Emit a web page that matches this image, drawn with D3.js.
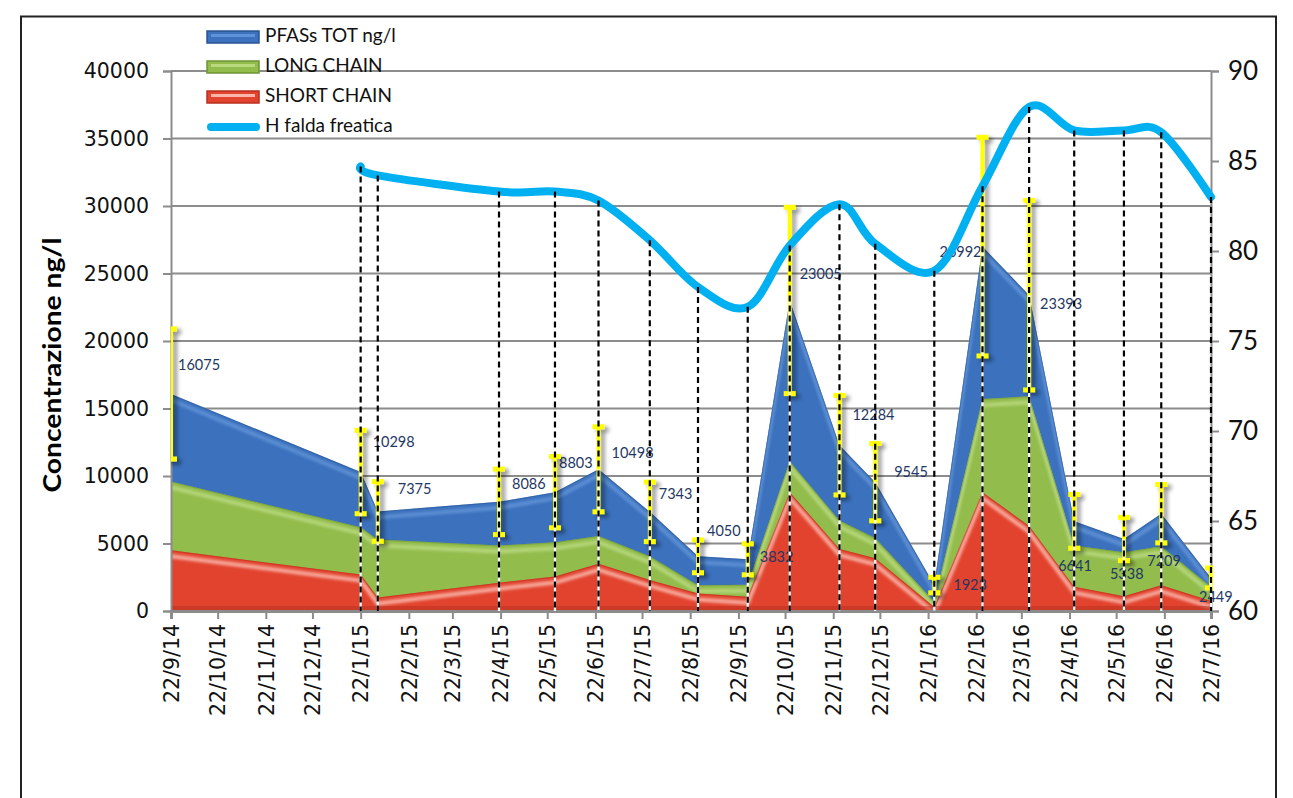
<!DOCTYPE html>
<html><head><meta charset="utf-8">
<script src="https://cdn.jsdelivr.net/npm/d3@7/dist/d3.min.js"></script>
<style>body{margin:0;background:#fff;} svg{display:block;}</style>
</head><body>
<svg id="chart" width="1293" height="798"></svg>
<script>
// ---------------- DATA ----------------
const sampleDates = ["22/09/2014","22/01/2015","02/02/2015","21/04/2015","27/05/2015","24/06/2015","27/07/2015","27/08/2015","28/09/2015","25/10/2015","26/11/2015","19/12/2015","26/01/2016","26/02/2016","27/03/2016","25/04/2016","27/05/2016","20/06/2016","22/07/2016"];
const totalPFAS = [16075,10298,7375,8086,8803,10498,7343,4050,3832,23005,12284,9545,1923,26992,23393,6641,5338,7209,2449];
const longChain = [9600,6200,5300,4850,5100,5550,4050,1900,1950,11100,6700,5400,700,15700,15900,4850,4350,4800,1800];
const shortChain = [4500,2700,1000,2100,2550,3500,2300,1300,1050,8800,4600,3900,300,8800,6300,1800,1100,1900,750];
const hFalda = [null,84.7,84.2,83.3,83.3,82.8,80.6,78.0,76.9,80.3,82.6,80.4,78.9,83.6,88.0,86.7,86.7,86.6,83.0];
const xTickLabels = ["22/9/14","22/10/14","22/11/14","22/12/14","22/1/15","22/2/15","22/3/15","22/4/15","22/5/15","22/6/15","22/7/15","22/8/15","22/9/15","22/10/15","22/11/15","22/12/15","22/1/16","22/2/16","22/3/16","22/4/16","22/5/16","22/6/16","22/7/16"];
const yLeftTicks = [0,5000,10000,15000,20000,25000,30000,35000,40000];
const yRightTicks = [60,65,70,75,80,85,90];
const errorPercent = 0.30;
const seriesNames = ["PFASs TOT ng/l","LONG CHAIN","SHORT CHAIN","H falda freatica"];
const yTitle = "Concentrazione ng/l";
// layout: manual data-label offsets (px) relative to each point
const labelOffsets = [[7,-28],[12,-29],[20,-21],[13,-17],[4,-28],[13,-15],[9,-17],[9,-24],[12,-1],[10,-25],[13,-29],[19,-9],[19,1],[-43,7],[11,10],[-16,46],[-14,36],[-14,49],[-12,20]];

// ---------------- SETUP ----------------
const svg = d3.select("#chart");
const L = 171, R = 1211, T = 71, B = 611;
const parseD = d3.timeParse("%d/%m/%Y");
const parseT = d3.timeParse("%d/%m/%y");
const dts = sampleDates.map(parseD);
const tickDates = xTickLabels.map(parseT);
const x = d3.scaleTime().domain([tickDates[0], tickDates[tickDates.length-1]]).range([L, R]);
const yL = d3.scaleLinear().domain([0, 40000]).range([B, T]);
const yR = d3.scaleLinear().domain([60, 90]).range([B, T]);

const colors = {
  blue: "#3B71BD", blueHi: "#6A9BDD", blueDk: "#2A5592",
  green: "#92BC4C", greenHi: "#C3E08C", greenDk: "#6F9435",
  red: "#E2432E", redHi: "#FFD2C8", redDk: "#B83020",
  line: "#00B0F0", err: "#FFFF00", label: "#1F3864"
};

const defs = svg.append("defs");
const sh = defs.append("filter").attr("id","shadow").attr("x","-50%").attr("y","-20%").attr("width","200%").attr("height","140%");
sh.append("feGaussianBlur").attr("in","SourceAlpha").attr("stdDeviation",2).attr("result","b");
sh.append("feOffset").attr("in","b").attr("dx",4).attr("dy",3).attr("result","o");
sh.append("feComponentTransfer").attr("in","o").attr("result","o2").append("feFuncA").attr("type","linear").attr("slope",0.45);
const mg = sh.append("feMerge"); mg.append("feMergeNode").attr("in","o2"); mg.append("feMergeNode").attr("in","SourceGraphic");
const blur = defs.append("filter").attr("id","soft"); blur.append("feGaussianBlur").attr("stdDeviation",1.6);
defs.append("clipPath").attr("id","plotclip").append("rect").attr("x",L).attr("y",T-40).attr("width",R-L+2).attr("height",B-T+42);

// outer border
svg.append("rect").attr("x",21).attr("y",16.5).attr("width",1255).attr("height",800)
  .attr("fill","none").attr("stroke","#222").attr("stroke-width",2);

// gridlines
svg.append("g").selectAll("line").data(yLeftTicks.slice(1)).join("line")
  .attr("x1",L).attr("x2",R).attr("y1",d=>yL(d)).attr("y2",d=>yL(d))
  .attr("stroke","#8C8C8C").attr("stroke-width",2);

// ---------------- AREAS ----------------
const pts = dts.map((d,i)=>({d, tot: totalPFAS[i], lng: longChain[i], sht: shortChain[i], h: hFalda[i], i}));
function drawArea(key, base, hi, dk, id){
  const area = d3.area().x(p=>x(p.d)).y0(B).y1(p=>yL(p[key]));
  const top = d3.line().x(p=>x(p.d)).y(p=>yL(p[key]));
  defs.append("clipPath").attr("id","clip"+id).append("path").attr("d", area(pts));
  const g = svg.append("g");
  g.append("path").attr("d", area(pts)).attr("fill", base);
  const gc = g.append("g").attr("clip-path","url(#clip"+id+")");
  gc.append("path").attr("d", top(pts)).attr("transform","translate(0,6)")
    .attr("fill","none").attr("stroke",hi).attr("stroke-width",4).attr("opacity",0.75).attr("filter","url(#soft)");
  gc.append("path").attr("d", top(pts)).attr("fill","none").attr("stroke",dk).attr("stroke-width",2).attr("opacity",0.5);
  gc.append("rect").attr("x",L).attr("y",B-5).attr("width",R-L).attr("height",5).attr("fill",dk).attr("opacity",0.5);
}
drawArea("tot", colors.blue, colors.blueHi, colors.blueDk, "b");
drawArea("lng", colors.green, colors.greenHi, colors.greenDk, "gr");
drawArea("sht", colors.red, colors.redHi, colors.redDk, "r");

// ---------------- AXES ----------------
const axL = svg.append("g").attr("transform",`translate(${L},0)`)
  .call(d3.axisLeft(yL).tickValues(yLeftTicks).tickSize(8).tickPadding(14).tickFormat(d3.format("d")));
axL.select(".domain").attr("stroke","#8C8C8C").attr("stroke-width",2);
axL.selectAll(".tick line").attr("stroke","#8C8C8C").attr("stroke-width",2);
axL.selectAll("text").attr("font-family","DejaVu Sans").attr("font-size",20.5).attr("fill","#111");
const axR = svg.append("g").attr("transform",`translate(${R},0)`)
  .call(d3.axisRight(yR).tickValues(yRightTicks).tickSize(8).tickPadding(9));
axR.select(".domain").attr("stroke","#8C8C8C").attr("stroke-width",2);
axR.selectAll(".tick line").attr("stroke","#8C8C8C").attr("stroke-width",2);
axR.selectAll("text").attr("font-family","Lato").attr("font-size",26).attr("fill","#111");
const axB = svg.append("g").attr("transform",`translate(0,${B})`)
  .call(d3.axisBottom(x).tickValues(tickDates).tickSize(8).tickFormat((d,i)=>xTickLabels[i]));
axB.select(".domain").attr("stroke","#8C8C8C").attr("stroke-width",3);
axB.selectAll(".tick line").attr("stroke","#8C8C8C").attr("stroke-width",2);
axB.selectAll("text").attr("font-family","DejaVu Sans").attr("font-size",20.5).attr("fill","#111")
  .attr("transform","rotate(-90)").attr("text-anchor","end").attr("x",-13).attr("y",0).attr("dy","0.35em");

// y title
svg.append("text").attr("transform",`translate(61,${365}) rotate(-90)`)
  .attr("text-anchor","middle").attr("font-family","Lato").attr("font-weight","bold").attr("font-size",24)
  .attr("textLength",255).attr("lengthAdjust","spacingAndGlyphs")
  .attr("fill","#000").text(yTitle);

// ---------------- DATA LABELS ----------------
svg.append("g").selectAll("text").data(pts).join("text")
  .attr("x",p=>x(p.d)+labelOffsets[p.i][0]).attr("y",p=>yL(p.tot)+labelOffsets[p.i][1])
  .attr("dominant-baseline","middle").attr("font-family","Lato").attr("font-size",14.5)
  .attr("fill",colors.label).text(p=>p.tot);

// ---------------- ERROR BARS ----------------
const eb = svg.append("g").attr("clip-path","url(#plotclip)").attr("filter","url(#shadow)");
pts.forEach(p=>{
  const cx = x(p.d), y1 = yL(p.tot*(1+errorPercent)), y2 = yL(p.tot*(1-errorPercent));
  eb.append("line").attr("x1",cx).attr("x2",cx).attr("y1",y1).attr("y2",y2).attr("stroke",colors.err).attr("stroke-width",4);
  [y1,y2].forEach(yy=>eb.append("line").attr("x1",cx-6).attr("x2",cx+6).attr("y1",yy).attr("y2",yy)
    .attr("stroke",colors.err).attr("stroke-width",5));
});

// ---------------- DROP LINES ----------------
const hp = pts.filter(p=>p.h!=null);
svg.append("g").selectAll("line").data(hp).join("line")
  .attr("x1",p=>x(p.d)).attr("x2",p=>x(p.d)).attr("y1",p=>yL(p.tot)).attr("y2",B)
  .attr("stroke","#fff").attr("stroke-width",2.2);

// ---------------- H LINE ----------------
const hl = d3.line().x(p=>x(p.d)).y(p=>yR(p.h)).curve(d3.curveCardinal.tension(0));
svg.append("path").attr("d", hl(hp)).attr("fill","none").attr("stroke",colors.line)
  .attr("stroke-width",8).attr("stroke-linecap","round").attr("stroke-linejoin","round");

svg.append("g").selectAll("line").data(hp).join("line")
  .attr("x1",p=>x(p.d)).attr("x2",p=>x(p.d)).attr("y1",p=>yR(p.h)).attr("y2",B)
  .attr("stroke","#000").attr("stroke-width",2.2).attr("stroke-dasharray","6,4");

// ---------------- LEGEND ----------------
const lg = svg.append("g");
const lgCols = [[colors.blue,colors.blueHi,colors.blueDk],[colors.green,colors.greenHi,colors.greenDk],[colors.red,colors.redHi,colors.redDk]];
seriesNames.forEach((name,i)=>{
  const cy = 37 + i*30;
  if(i<3){
    lg.append("rect").attr("x",207).attr("y",cy-6).attr("width",52).attr("height",12).attr("fill",lgCols[i][0])
      .attr("stroke",lgCols[i][2]).attr("stroke-width",1.5);
    lg.append("rect").attr("x",211).attr("y",cy-3).attr("width",44).attr("height",3).attr("fill",lgCols[i][1]).attr("opacity",0.8);
  } else {
    lg.append("line").attr("x1",211).attr("x2",256).attr("y1",cy).attr("y2",cy).attr("stroke",colors.line)
      .attr("stroke-width",8).attr("stroke-linecap","round");
  }
  lg.append("text").attr("x",265).attr("y",cy).attr("dominant-baseline","middle").attr("font-family","Lato")
    .attr("font-size",19).attr("fill","#111").text(name);
});
</script>
</body></html>
